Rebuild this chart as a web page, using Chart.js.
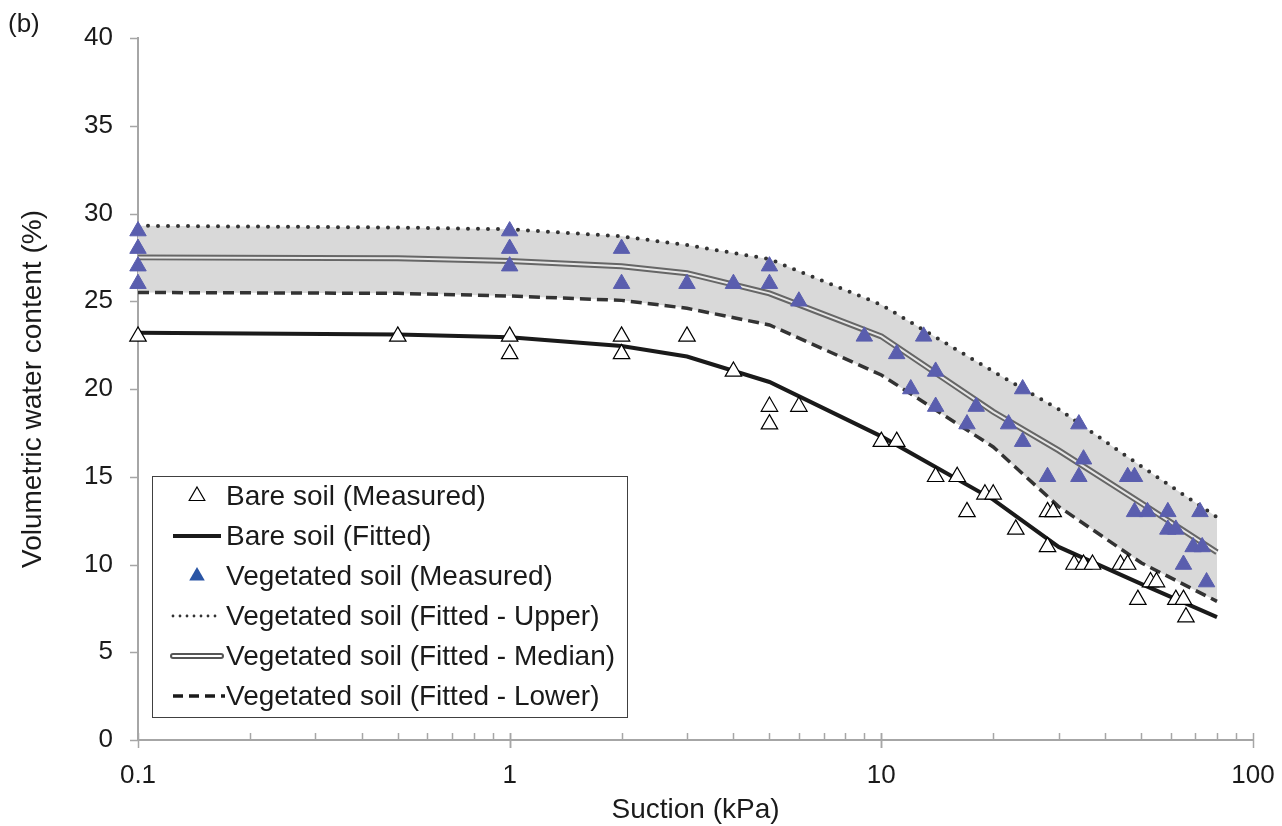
<!DOCTYPE html>
<html lang="en">
<head>
<meta charset="UTF-8">
<title>Soil water retention (b)</title>
<script src="https://cdn.jsdelivr.net/npm/chart.js"></script>
<style>
  body { margin: 0; background: #ffffff; }
  .wrap { width: 1282px; height: 826px; position: relative; }
</style>
</head>
<body>
<div class="wrap"><canvas id="swcc"></canvas></div>
<script>
// measured points, bare soil
const bareX = [0.1, 0.5, 1, 1, 2, 2, 3, 4, 5, 5, 6, 10, 11, 14, 16, 17, 19, 20, 23, 28, 29, 28, 33, 35, 37, 44, 46, 53, 55, 49, 62, 65, 66];
const bareY = [23, 23, 23, 22, 23, 22, 23, 21, 19, 18, 19, 17, 17, 15, 15, 13, 14, 14, 12, 13, 13, 11, 10, 10, 10, 10, 10, 9, 9, 8, 8, 8, 7];

// measured points, vegetated soil
const vegX = [0.1, 0.1, 0.1, 0.1, 1, 1, 1, 2, 2, 3, 4, 5, 5, 6, 9, 13, 11, 14, 12, 14, 18, 17, 24, 22, 24, 34, 35, 28, 34, 46, 48, 48, 52, 59, 72, 59, 62, 69, 73, 65, 75];
const vegY = [29, 28, 27, 26, 29, 28, 27, 28, 26, 26, 26, 27, 26, 25, 23, 23, 22, 21, 20, 19, 19, 18, 20, 18, 17, 18, 16, 15, 15, 15, 15, 13, 13, 13, 13, 12, 12, 11, 11, 10, 9];

// fitted curves
const fitX      = [0.1, 0.5, 1, 2, 3, 5, 10, 20, 30, 50, 80];
const bareFit   = [23.2, 23.1, 22.95, 22.45, 21.85, 20.4, 17.3, 13.7, 11.0, 8.9, 7.0];
const upperFit  = [29.3, 29.2, 29.1, 28.7, 28.2, 27.4, 24.8, 21.0, 18.85, 15.6, 12.7];
const medianFit = [27.5, 27.45, 27.3, 27.0, 26.6, 25.45, 23.0, 18.7, 16.5, 13.5, 10.7];
const lowerFit  = [25.5, 25.45, 25.3, 25.05, 24.6, 23.65, 20.8, 16.7, 13.3, 10.1, 7.9];

const xMajor = [0.1, 1, 10, 100];
const yTicks = [0, 5, 10, 15, 20, 25, 30, 35, 40];

const legendItems = [
    'Bare soil (Measured)',
    'Bare soil (Fitted)',
    'Vegetated soil (Measured)',
    'Vegetated soil (Fitted - Upper)',
    'Vegetated soil (Fitted - Median)',
    'Vegetated soil (Fitted - Lower)'
];

const FONT = '"Liberation Sans", Arial, sans-serif';
const axisGray = '#a6a6a6';
const vegBlue = '#5a5eae';

function pts(xs, ys) {
    return xs.map((x, i) => ({ x: x, y: ys[i] }));
}

function fitLine(label, ys, color, width, extra) {
    return Object.assign({
        label: label,
        data: pts(fitX, ys),
        showLine: true,
        borderColor: color,
        borderWidth: width,
        pointRadius: 0,
        fill: false,
        tension: 0,
        clip: false
    }, extra || {});
}

// axis ticks, legend box and panel letter
const decorPlugin = {
    id: 'decor',
    afterDraw(chart) {
        const ctx = chart.ctx;
        const xs = chart.scales.x;
        const ys = chart.scales.y;
        const area = chart.chartArea;
        ctx.save();
        ctx.strokeStyle = axisGray;
        ctx.lineWidth = 1.5;

        yTicks.forEach(v => {
            const py = Math.round(ys.getPixelForValue(v)) + 0.5;
            ctx.beginPath();
            ctx.moveTo(area.left - 8, py);
            ctx.lineTo(area.left, py);
            ctx.stroke();
        });

        for (let d = 0.1; d < 100; d *= 10) {
            for (let k = 1; k <= 10; k++) {
                const px = Math.round(xs.getPixelForValue(d * k)) + 0.5;
                ctx.beginPath();
                ctx.moveTo(px, area.bottom - 7);
                ctx.lineTo(px, (k === 1 || k === 10) ? area.bottom + 8 : area.bottom);
                ctx.stroke();
            }
        }

        // legend
        const bx = 152, by = 476, bw = 475, bh = 241;
        ctx.fillStyle = '#ffffff';
        ctx.fillRect(bx, by, bw, bh);
        ctx.strokeStyle = '#404040';
        ctx.lineWidth = 1;
        ctx.strokeRect(bx + 0.5, by + 0.5, bw, bh);

        const x0 = 173, x1 = 221, mx = 197;
        legendItems.forEach((txt, i) => {
            const cy = 496 + i * 40;
            ctx.setLineDash([]);
            ctx.lineCap = 'butt';
            if (i === 0 || i === 2) {
                const r = 9;
                ctx.beginPath();
                ctx.moveTo(mx, cy - r);
                ctx.lineTo(mx + r * 0.866, cy + r * 0.5);
                ctx.lineTo(mx - r * 0.866, cy + r * 0.5);
                ctx.closePath();
                ctx.fillStyle = i === 0 ? '#ffffff' : '#2a55a5';
                ctx.fill();
                if (i === 0) {
                    ctx.strokeStyle = '#000000';
                    ctx.lineWidth = 1.2;
                    ctx.stroke();
                }
            } else if (i === 1) {
                ctx.strokeStyle = '#1a1a1a';
                ctx.lineWidth = 4;
                ctx.beginPath(); ctx.moveTo(x0, cy); ctx.lineTo(x1, cy); ctx.stroke();
            } else if (i === 3) {
                ctx.strokeStyle = '#333333';
                ctx.lineWidth = 2.8;
                ctx.lineCap = 'round';
                ctx.setLineDash([0, 7]);
                ctx.beginPath(); ctx.moveTo(x0, cy); ctx.lineTo(x1, cy); ctx.stroke();
            } else if (i === 4) {
                ctx.strokeStyle = '#555555';
                ctx.lineWidth = 6;
                ctx.lineCap = 'round';
                ctx.beginPath(); ctx.moveTo(x0, cy); ctx.lineTo(x1, cy); ctx.stroke();
                ctx.strokeStyle = '#ffffff';
                ctx.lineWidth = 2;
                ctx.beginPath(); ctx.moveTo(x0, cy); ctx.lineTo(x1, cy); ctx.stroke();
            } else {
                ctx.strokeStyle = '#1a1a1a';
                ctx.lineWidth = 3.5;
                ctx.setLineDash([10, 6]);
                ctx.beginPath(); ctx.moveTo(x0, cy); ctx.lineTo(x1 + 4, cy); ctx.stroke();
            }
            ctx.setLineDash([]);
            ctx.fillStyle = '#1a1a1a';
            ctx.font = '28px ' + FONT;
            ctx.textAlign = 'left';
            ctx.textBaseline = 'middle';
            ctx.fillText(txt, 226, cy + 1);
        });

        ctx.font = '26px ' + FONT;
        ctx.fillStyle = '#1a1a1a';
        ctx.textBaseline = 'middle';
        ctx.fillText('(b)', 8, 25);
        ctx.restore();
    }
};

const ctx = document.getElementById('swcc').getContext('2d');
new Chart(ctx, {
    type: 'scatter',
    data: {
        datasets: [
            {
                label: 'Bare soil (Measured)',
                data: pts(bareX, bareY),
                pointStyle: 'triangle',
                pointRadius: 9.5,
                backgroundColor: '#ffffff',
                borderColor: '#000000',
                borderWidth: 1.2,
                clip: false,
                order: 1
            },
            {
                label: 'Vegetated soil (Measured)',
                data: pts(vegX, vegY),
                pointStyle: 'triangle',
                pointRadius: 9.5,
                backgroundColor: vegBlue,
                borderColor: vegBlue,
                borderWidth: 1,
                clip: false,
                order: 0
            },
            fitLine('Bare soil (Fitted)', bareFit, '#1a1a1a', 4, { order: 6 }),
            fitLine('Vegetated soil (Fitted - Upper)', upperFit, '#333333', 4, {
                borderDash: [0, 10], borderCapStyle: 'round',
                fill: '+1', backgroundColor: '#d9d9d9', order: 5
            }),
            fitLine('Vegetated soil (Fitted - Lower)', lowerFit, '#333333', 3.5, {
                borderDash: [11, 6], order: 4
            }),
            fitLine('Vegetated soil (Fitted - Median)', medianFit, '#666666', 6, { order: 3 }),
            fitLine('median inner', medianFit, '#e6e6e6', 2, { order: 2 })
        ]
    },
    options: {
        responsive: true,
        maintainAspectRatio: false,
        animation: false,
        layout: { padding: { top: 38, right: 29, left: 0, bottom: 0 } },
        plugins: {
            legend: { display: false },
            tooltip: { enabled: false },
            filler: { drawTime: 'beforeDatasetsDraw' }
        },
        scales: {
            x: {
                type: 'logarithmic',
                min: 0.1,
                max: 100,
                afterBuildTicks: s => { s.ticks = xMajor.map(v => ({ value: v })); },
                afterFit: s => { s.height = 86; s.paddingLeft = 0; s.paddingRight = 0; },
                border: { color: axisGray, width: 2 },
                grid: { drawOnChartArea: false, drawTicks: false },
                ticks: {
                    callback: v => String(v),
                    font: { size: 26, family: FONT },
                    color: '#1a1a1a',
                    padding: 20,
                    maxRotation: 0,
                    autoSkip: false
                },
                title: {
                    display: true,
                    text: 'Suction (kPa)',
                    font: { size: 28, family: FONT, lineHeight: 1.1 },
                    color: '#1a1a1a',
                    padding: { top: 0, bottom: 0 }
                }
            },
            y: {
                min: 0,
                max: 40,
                afterBuildTicks: s => { s.ticks = yTicks.map(v => ({ value: v })); },
                afterFit: s => { s.width = 138; s.paddingTop = 0; s.paddingBottom = 0; },
                border: { color: axisGray, width: 2 },
                grid: { drawOnChartArea: false, drawTicks: false },
                ticks: {
                    font: { size: 26, family: FONT },
                    color: '#1a1a1a',
                    padding: 25
                },
                title: {
                    display: true,
                    text: 'Volumetric water content (%)',
                    font: { size: 28, family: FONT },
                    color: '#1a1a1a',
                    padding: { top: 16, bottom: 0 }
                }
            }
        }
    },
    plugins: [decorPlugin]
});
</script>
</body>
</html>
